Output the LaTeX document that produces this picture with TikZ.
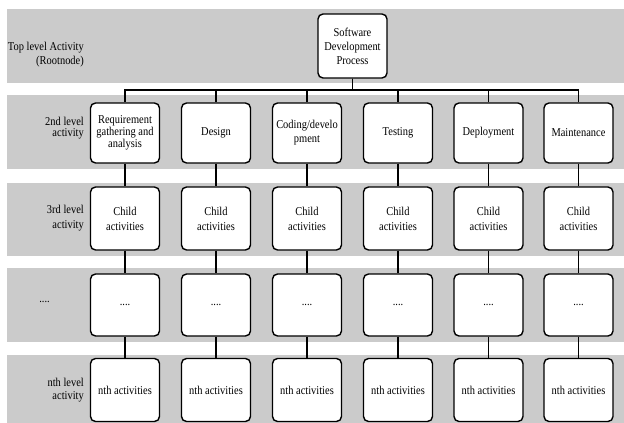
\documentclass[tikz,border=0pt]{standalone}
\usepackage{fontspec}
\setmainfont{Liberation Serif}[FakeStretch=0.87]
\definecolor{band}{RGB}{203,203,203}
\begin{document}
\begin{tikzpicture}[x=1pt,y=-1pt,
  box/.style={draw, line width=1.4pt, rounded corners=5pt, fill=white,
    minimum width=69pt, align=center, inner sep=1pt},
  lbl/.style={align=right, anchor=east, inner sep=0pt},
  conn/.style={line width=1.2pt},
  bus/.style={line width=1.6pt}]
\useasboundingbox (0,0) rectangle (624,423);
\fill[white] (0,0) rectangle (624,423);
% bands
\fill[band] (7,9) rectangle (624,83);
\fill[band] (7,95) rectangle (624,169);
\fill[band] (7,183) rectangle (624,256);
\fill[band] (7,268) rectangle (624,342);
\fill[band] (7,355) rectangle (624,423);
% row labels
\node[lbl, font=\fontsize{12}{14}\selectfont] (l1) at (84,55) {Top level Activity\\(Rootnode)};
\node[lbl, font=\fontsize{12}{11}\selectfont] (l2) at (84,128) {2nd level\\activity};
\node[lbl, font=\fontsize{12}{15}\selectfont] (l3) at (84,218) {3rd level\\activity};
\node[lbl, font=\fontsize{12}{12}\selectfont] (l4) at (50,302) {....};
\node[lbl, font=\fontsize{12}{13}\selectfont] (l5) at (84,390) {nth level\\activity};
% root
\node[box, minimum height=64pt, font=\fontsize{12}{14}\selectfont] (root) at (352.5,46) {Software\\Development\\Process};
% columns
\foreach \i/\x/\t/\s in {1/125/{Requirement\\gathering and\\analysis}/10.5,
                     2/216/{Design}/12,
                     3/307/{Coding/develo\\pment}/14,
                     4/398/{Testing}/12,
                     5/488.5/{Deployment}/12,
                     6/578.5/{Maintenance}/12}{
  \node[box, minimum height=60pt, font=\fontsize{12}{\s}\selectfont] (a\i) at (\x,133) {\t};
  \node[box, minimum height=63pt, font=\fontsize{12}{15}\selectfont] (b\i) at (\x,218.5) {Child\\activities};
  \node[box, minimum height=62pt, font=\fontsize{12}{12}\selectfont] (c\i) at (\x,305) {....};
  \node[box, minimum height=63pt, font=\fontsize{12}{12}\selectfont] (d\i) at (\x,390) {nth activities};
  \draw[bus] (root.south) -- ++(0,11) -| (a\i.north);
  \draw[conn] (a\i) -- (b\i);
  \draw[conn] (b\i) -- (c\i);
  \draw[conn] (c\i) -- (d\i);
}
\end{tikzpicture}
\end{document}
